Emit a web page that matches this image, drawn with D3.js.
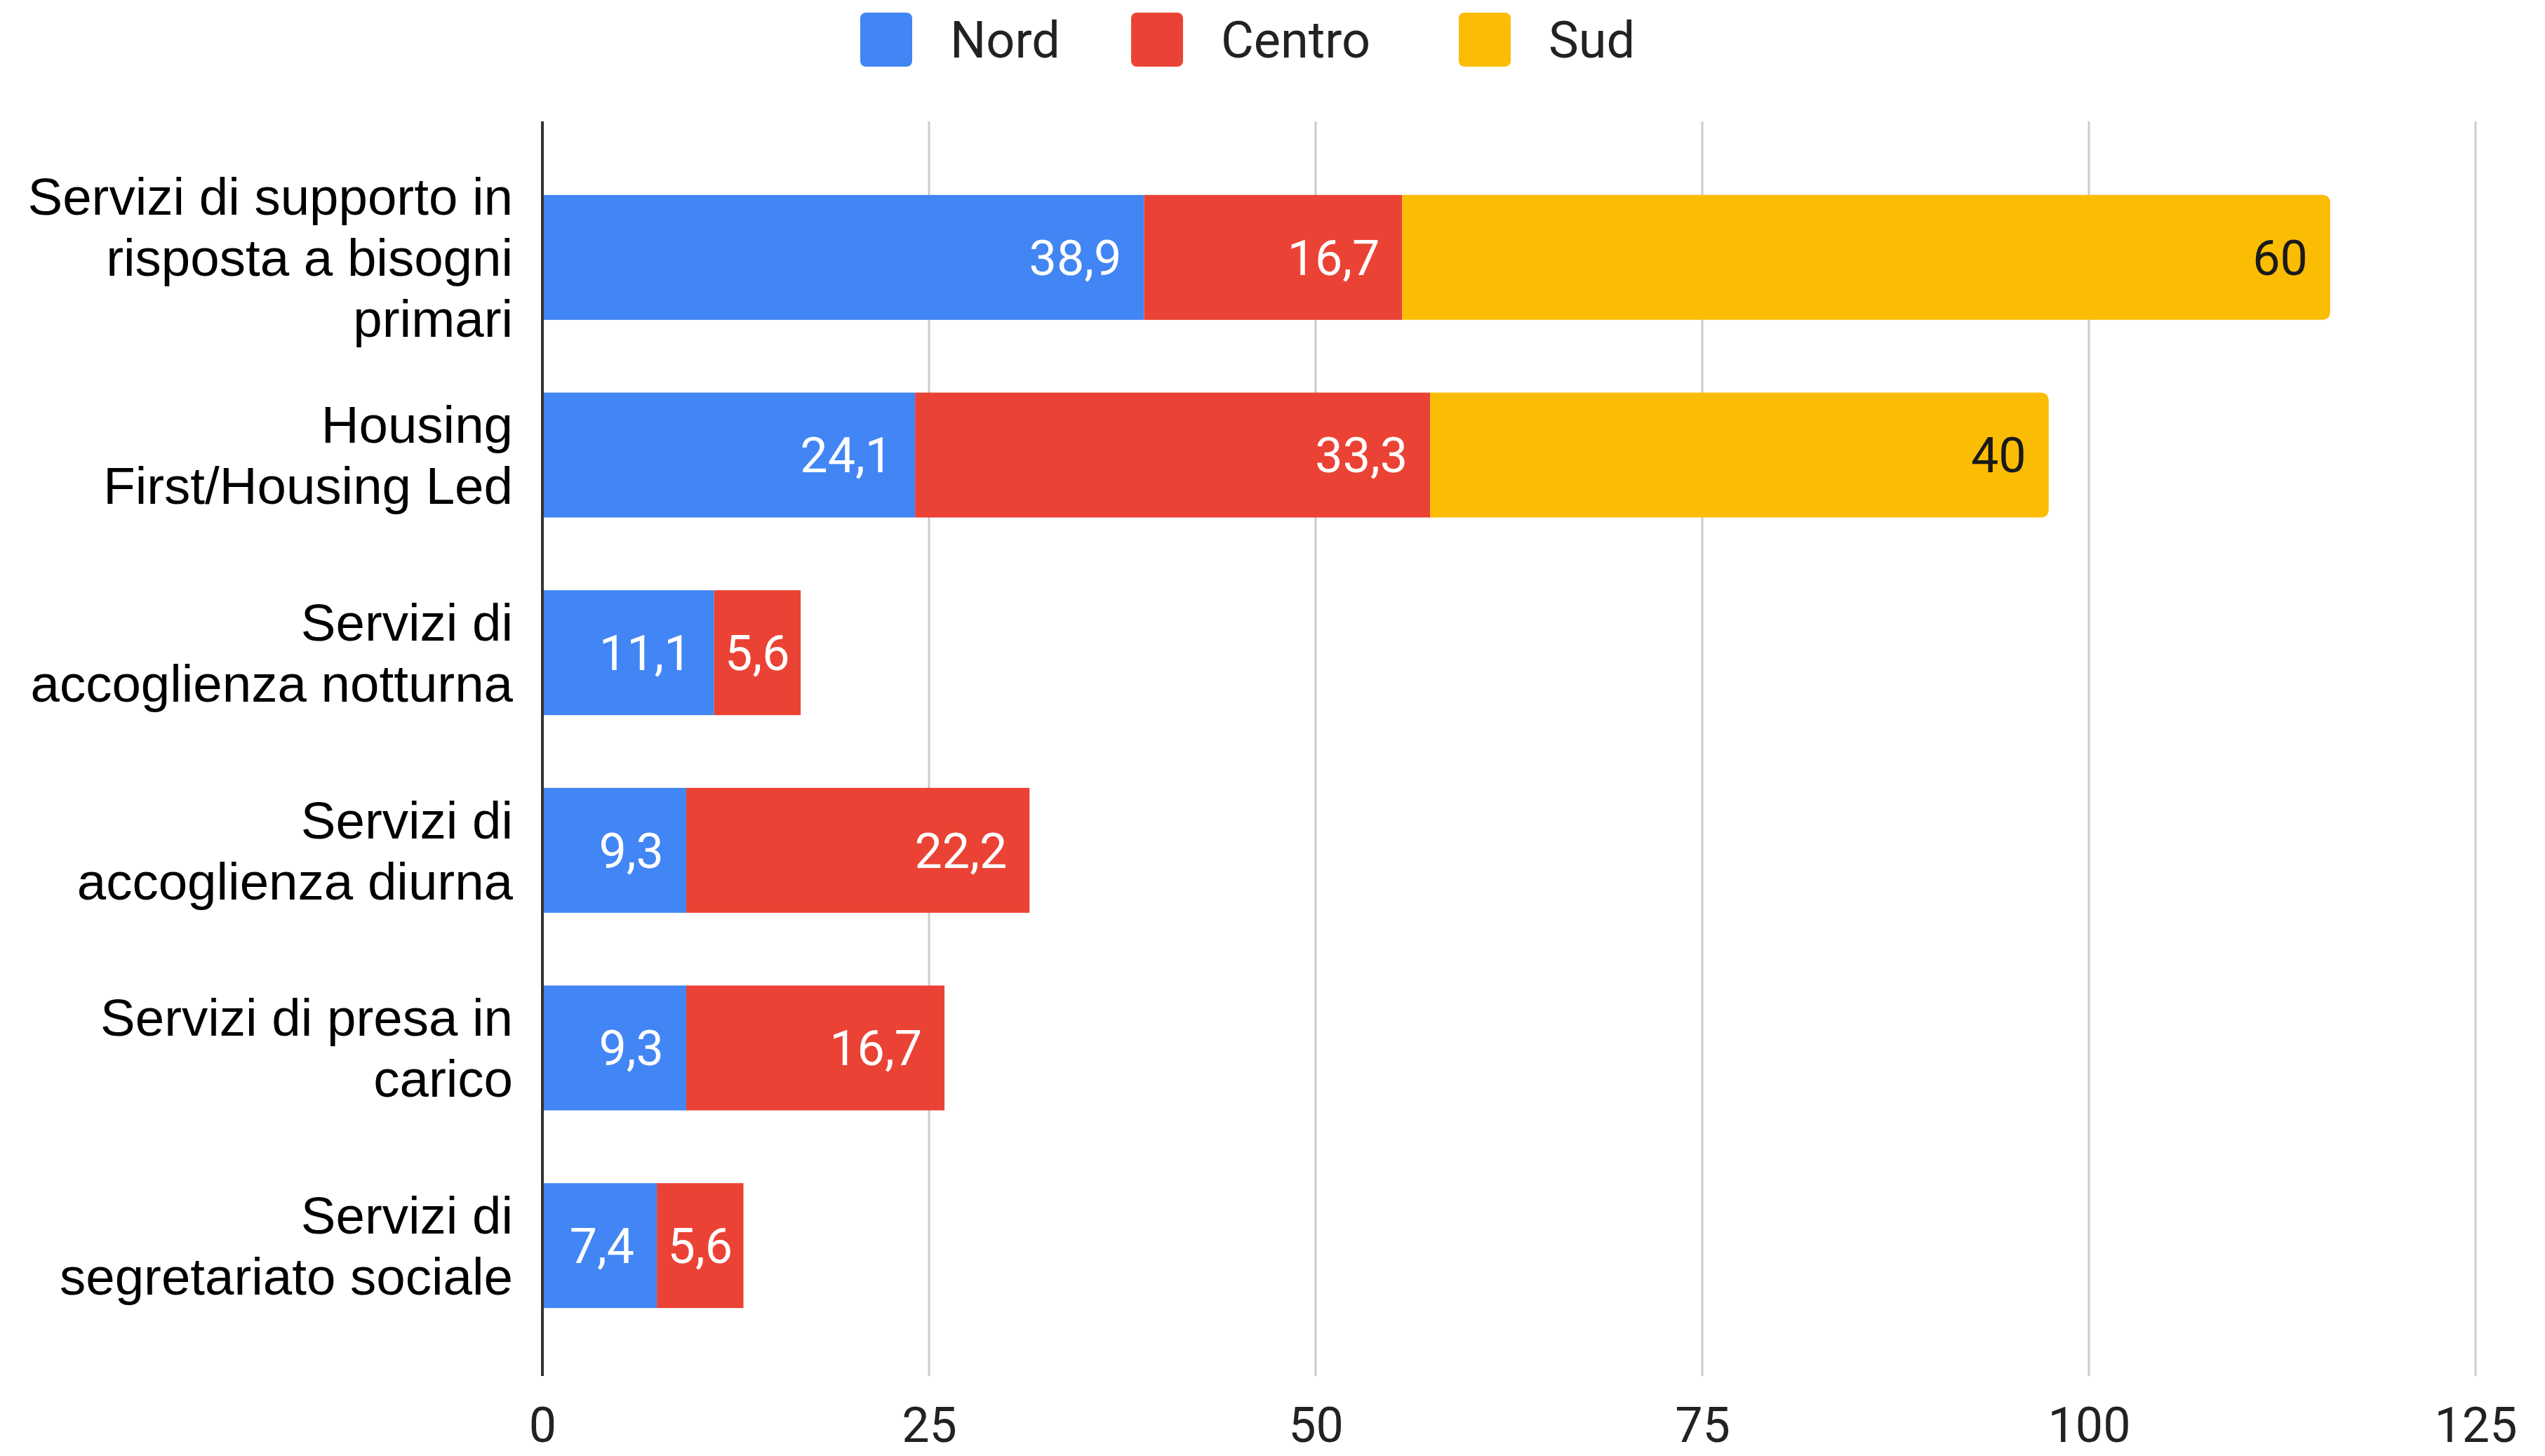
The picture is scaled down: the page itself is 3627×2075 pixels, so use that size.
<!DOCTYPE html>
<html>
<head>
<meta charset="utf-8">
<script src="https://cdn.jsdelivr.net/npm/d3@7"></script>
<style>
  html, body { margin: 0; padding: 0; background: #fff; }
  svg { display: block; font-family: Roboto, "Noto Sans", sans-serif; }
</style>
</head>
<body>
<svg id="chart" width="3627" height="2075"></svg>
<script>
// ---- data ----
const categories = [
  "Servizi di supporto in\nrisposta a bisogni\nprimari",
  "Housing\nFirst/Housing Led",
  "Servizi di\naccoglienza notturna",
  "Servizi di\naccoglienza diurna",
  "Servizi di presa in\ncarico",
  "Servizi di\nsegretariato sociale"
];
const seriesNames = ["Nord", "Centro", "Sud"];
const nord   = [38.9, 24.1, 11.1, 9.3, 9.3, 7.4];
const centro = [16.7, 33.3, 5.6, 22.2, 16.7, 5.6];
const sud    = [60, 40, 0, 0, 0, 0];
const xTicks = [0, 25, 50, 75, 100, 125];

const seriesValues = [nord, centro, sud];
const colors = ["#4285F4", "#EA4335", "#FBBC04"];
const labelColors = ["#ffffff", "#ffffff", "#1a1a1a"];

const table = categories.map((c, i) => ({ idx: i, cat: c, Nord: nord[i], Centro: centro[i], Sud: sud[i] }));
const stacked = d3.stack().keys(seriesNames)(table);

const svg = d3.select("#chart");
const fmt = v => String(v).replace(".", ",");

const plotTop = 173, plotBottom = 1961;
const x = d3.scaleLinear().domain([0, 125]).range([773, 3528]);
const y = d3.scaleBand().domain(categories).range([226, 1916]).paddingInner(0.368).paddingOuter(0.184);

// gridlines
svg.append("g").selectAll("line").data(xTicks.filter(t => t !== 0)).join("line")
  .attr("x1", d => x(d)).attr("x2", d => x(d))
  .attr("y1", plotTop).attr("y2", plotBottom)
  .attr("stroke", "#cccccc").attr("stroke-width", 3);

// x tick labels via axis
const xAxis = d3.axisBottom(x).tickValues(xTicks).tickSize(0).tickPadding(0).tickFormat(d => d);
const gx = svg.append("g").attr("transform", `translate(0,${2055})`).call(xAxis);
gx.select(".domain").remove();
gx.selectAll("text").attr("font-size", 70).attr("fill", "#222").attr("dy", 0)
  .attr("font-family", "Roboto, sans-serif").attr("y", 0);

// bars
function roundedRight(x0, y0, w, h, r) {
  r = Math.min(r, w, h / 2);
  return `M${x0},${y0}H${x0 + w - r}Q${x0 + w},${y0} ${x0 + w},${y0 + r}V${y0 + h - r}Q${x0 + w},${y0 + h} ${x0 + w - r},${y0 + h}H${x0}Z`;
}

stacked.forEach((layer, si) => {
  const g = svg.append("g");
  layer.forEach(seg => {
    const v = seriesValues[si][seg.data.idx];
    if (v <= 0) return;
    const x0 = x(seg[0]), w = x(seg[1]) - x(seg[0]);
    const y0 = y(seg.data.cat), h = y.bandwidth();
    if (si === seriesNames.length - 1) {
      g.append("path").attr("d", roundedRight(x0, y0, w, h, 12)).attr("fill", colors[si]);
    } else {
      g.append("rect").attr("x", x0).attr("y", y0).attr("width", w).attr("height", h).attr("fill", colors[si]);
    }
    // label
    const t = g.append("text")
      .attr("y", y0 + h / 2).attr("dy", "0.355em")
      .attr("font-size", 70).attr("fill", labelColors[si])
      .text(fmt(v));
    const tw = t.node().getComputedTextLength();
    const pad = 32;
    if (tw + 2 * pad <= w) {
      t.attr("x", x0 + w - pad).attr("text-anchor", "end");
    } else {
      t.attr("x", x0 + w / 2).attr("text-anchor", "middle");
    }
  });
});

// zero axis line
svg.append("line").attr("x1", x(0)).attr("x2", x(0))
  .attr("y1", plotTop).attr("y2", plotBottom)
  .attr("stroke", "#333333").attr("stroke-width", 4);

// category labels
const lineH = 87;
const gy = svg.append("g");
categories.forEach(c => {
  const lines = c.split("\n");
  const cy = y(c) + y.bandwidth() / 2;
  const t = gy.append("text").attr("text-anchor", "end").attr("font-size", 74.5)
    .attr("font-family", "'Liberation Sans', Arial, sans-serif").attr("fill", "#000");
  lines.forEach((ln, i) => {
    t.append("tspan").attr("x", 731)
      .attr("y", cy + (i - (lines.length - 1) / 2) * lineH)
      .attr("dy", "0.355em").text(ln);
  });
});

// legend
const legendX = [1226, 1612, 2079];
const lg = svg.append("g");
seriesNames.forEach((s, i) => {
  lg.append("rect").attr("x", legendX[i]).attr("y", 18).attr("width", 74).attr("height", 77)
    .attr("rx", 8).attr("fill", colors[i]);
  lg.append("text").attr("x", legendX[i] + 128).attr("y", 56).attr("dy", "0.355em")
    .attr("font-size", 72).attr("fill", "#222").text(s);
});
</script>
</body>
</html>
